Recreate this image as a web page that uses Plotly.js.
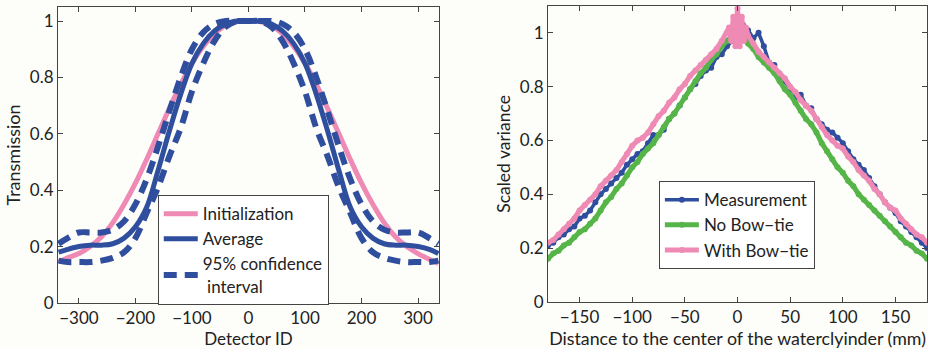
<!DOCTYPE html>
<html><head><meta charset="utf-8">
<script src="https://cdn.plot.ly/plotly-3.0.1.min.js"></script>
<style>html,body{margin:0;padding:0;background:#fdfdf9;}#c{width:928px;height:349px;}</style>
</head><body><div id="c"></div>
<script>
// ---- Left panel: transmission vs detector ID ----
const detectorId = [-336,-320,-300,-280,-260,-240,-220,-200,-180,-160,-140,-120,-100,-80,-60,-40,-20,0,20,40,60,80,100,120,140,160,180,200,220,240,260,280,300,320,336];
const initialization = [0.145,0.16,0.175,0.2,0.235,0.285,0.35,0.425,0.51,0.6,0.69,0.775,0.85,0.91,0.955,0.985,0.998,1.0,0.998,0.985,0.955,0.91,0.85,0.775,0.69,0.6,0.51,0.425,0.35,0.285,0.235,0.2,0.175,0.155,0.14];
const average = [0.18,0.19,0.2,0.205,0.205,0.21,0.23,0.27,0.34,0.47,0.61,0.74,0.85,0.92,0.965,0.99,1.0,1.0,1.0,0.99,0.965,0.92,0.85,0.74,0.61,0.47,0.34,0.27,0.23,0.21,0.205,0.205,0.2,0.19,0.175];
const ciUpper = [0.21,0.23,0.25,0.25,0.25,0.26,0.29,0.35,0.44,0.555,0.68,0.8,0.9,0.96,0.99,1.0,1.0,1.0,1.0,1.0,0.99,0.96,0.9,0.8,0.68,0.555,0.44,0.35,0.29,0.26,0.25,0.25,0.25,0.23,0.21];
const ciLower = [0.15,0.145,0.145,0.145,0.15,0.16,0.18,0.23,0.32,0.41,0.52,0.62,0.75,0.85,0.93,0.98,1.0,1.0,1.0,0.98,0.93,0.85,0.75,0.62,0.52,0.41,0.32,0.23,0.18,0.16,0.15,0.145,0.145,0.145,0.15];

// ---- Right panel: scaled variance vs distance ----
const distance = [-180,-175,-170,-165,-160,-155,-150,-145,-140,-135,-130,-125,-120,-115,-110,-105,-100,-95,-90,-85,-80,-75,-70,-65,-60,-55,-50,-45,-40,-35,-30,-25,-20,-15,-10,-5,0,5,10,15,20,25,30,35,40,45,50,55,60,65,70,75,80,85,90,95,100,105,110,115,120,125,130,135,140,145,150,155,160,165,170,175,180];
const measurement = [0.21,0.22,0.24,0.25,0.27,0.28,0.31,0.32,0.34,0.37,0.40,0.42,0.44,0.46,0.48,0.51,0.53,0.55,0.56,0.59,0.62,0.62,0.64,0.68,0.70,0.73,0.76,0.79,0.81,0.84,0.86,0.87,0.91,0.92,0.95,0.97,1.02,1.03,1.01,0.98,1.0,0.95,0.89,0.88,0.83,0.82,0.79,0.76,0.77,0.73,0.72,0.68,0.66,0.64,0.63,0.61,0.59,0.56,0.53,0.51,0.49,0.46,0.43,0.40,0.37,0.35,0.33,0.30,0.28,0.26,0.24,0.22,0.20];
const noBowtie = [0.16,0.18,0.19,0.21,0.22,0.24,0.26,0.27,0.29,0.31,0.34,0.37,0.39,0.42,0.44,0.47,0.50,0.52,0.55,0.57,0.59,0.62,0.65,0.68,0.70,0.73,0.76,0.79,0.82,0.85,0.87,0.90,0.92,0.95,0.97,0.99,1.0,0.99,0.96,0.94,0.91,0.89,0.87,0.85,0.82,0.79,0.77,0.74,0.71,0.68,0.66,0.63,0.59,0.56,0.53,0.50,0.48,0.45,0.43,0.40,0.38,0.36,0.34,0.32,0.30,0.28,0.26,0.24,0.22,0.21,0.19,0.18,0.16];
const bowtieX = [-180,-175,-170,-165,-160,-155,-150,-145,-140,-135,-130,-125,-120,-115,-110,-105,-100,-95,-90,-85,-80,-75,-70,-65,-60,-55,-50,-45,-40,-35,-30,-25,-20,-15,-10,-8,-6,-4,-2,0,2,4,6,8,10,15,20,25,30,35,40,45,50,55,60,65,70,75,80,85,90,95,100,105,110,115,120,125,130,135,140,145,150,155,160,165,170,175,180];
const withBowtie = [0.22,0.23,0.25,0.27,0.29,0.31,0.34,0.36,0.38,0.40,0.43,0.45,0.47,0.49,0.52,0.55,0.58,0.60,0.61,0.63,0.66,0.69,0.71,0.74,0.76,0.79,0.81,0.84,0.86,0.88,0.90,0.92,0.94,0.97,1.00,1.02,0.97,1.06,0.95,1.09,0.95,1.06,0.97,1.02,0.99,0.96,0.93,0.91,0.89,0.87,0.85,0.83,0.80,0.78,0.75,0.73,0.71,0.68,0.65,0.62,0.60,0.58,0.57,0.54,0.52,0.49,0.47,0.45,0.42,0.40,0.37,0.35,0.34,0.31,0.29,0.27,0.25,0.24,0.22];

const PINK = '#ee8ab4', BLUE = '#2f4e9e', GREEN = '#56b548';
const FONT = 'Lato, "Open Sans", sans-serif';

const traces = [
  {x: detectorId, y: initialization, name: 'Initialization', mode: 'lines', line: {color: PINK, width: 5, shape: 'spline'}, xaxis: 'x', yaxis: 'y', legend: 'legend'},
  {x: detectorId, y: average, name: 'Average', mode: 'lines', line: {color: BLUE, width: 5, shape: 'spline'}, xaxis: 'x', yaxis: 'y', legend: 'legend'},
  {x: detectorId, y: ciUpper, name: '95% confidence<br> interval', legendgroup: 'ci', mode: 'lines', line: {color: BLUE, width: 6, dash: '13px,8px', shape: 'spline'}, xaxis: 'x', yaxis: 'y', legend: 'legend'},
  {x: detectorId, y: ciLower, name: 'ci lower', legendgroup: 'ci', showlegend: false, mode: 'lines', line: {color: BLUE, width: 6, dash: '13px,8px', shape: 'spline'}, xaxis: 'x', yaxis: 'y'},
  {x: distance, y: measurement, name: 'Measurement', mode: 'lines+markers', line: {color: BLUE, width: 3.5}, marker: {color: BLUE, size: 6}, xaxis: 'x2', yaxis: 'y2', legend: 'legend2'},
  {x: distance, y: noBowtie, name: 'No Bow\u2212tie', mode: 'lines+markers', line: {color: GREEN, width: 5}, marker: {color: GREEN, size: 6}, xaxis: 'x2', yaxis: 'y2', legend: 'legend2'},
  {x: bowtieX, y: withBowtie, name: 'With Bow\u2212tie', mode: 'lines+markers', line: {color: PINK, width: 5}, marker: {color: PINK, size: 6}, xaxis: 'x2', yaxis: 'y2', legend: 'legend2'}
];

const axisCommon = {
  showline: true, mirror: 'ticks', linecolor: '#444', linewidth: 1,
  ticks: 'inside', ticklen: 5, tickcolor: '#444', showgrid: false, zeroline: false,
  tickfont: {family: FONT, size: 17, color: '#222'}
};

const layout = {
  width: 928, height: 349,
  margin: {l: 0, r: 0, t: 0, b: 0},
  paper_bgcolor: '#fdfdf9', plot_bgcolor: '#fdfdf9',
  font: {family: FONT, color: '#222'},
  showlegend: true,
  xaxis: Object.assign({}, axisCommon, {domain: [0.0625, 0.473], range: [-337, 337], tickvals: [-300,-200,-100,0,100,200,300], anchor: 'y',
    title: {text: 'Detector ID', font: {family: FONT, size: 17, color: '#222'}, standoff: 1}}),
  yaxis: Object.assign({}, axisCommon, {domain: [0.132, 0.98], range: [0, 1.05], tickvals: [0,0.2,0.4,0.6,0.8,1], ticktext: ['0','0.2','0.4','0.6','0.8','1'], anchor: 'x',
    title: {text: 'Transmission', font: {family: FONT, size: 18, color: '#222'}, standoff: 4}}),
  xaxis2: Object.assign({}, axisCommon, {domain: [0.5905, 0.999], range: [-180, 180], tickvals: [-150,-100,-50,0,50,100,150], anchor: 'y2',
    title: {text: 'Distance to the center of the waterclyinder (mm)', font: {family: FONT, size: 17.8, color: '#222'}, standoff: 1}}),
  yaxis2: Object.assign({}, axisCommon, {domain: [0.135, 0.983], range: [0, 1.1], tickvals: [0,0.2,0.4,0.6,0.8,1], ticktext: ['0','0.2','0.4','0.6','0.8','1'], anchor: 'x2',
    title: {text: 'Scaled variance', font: {family: FONT, size: 17.5, color: '#222'}, standoff: 4}}),
  legend: {x: 0.170, y: 0.441, xanchor: 'left', yanchor: 'top', bgcolor: '#ffffff', bordercolor: '#444', borderwidth: 1,
    font: {family: FONT, size: 17, color: '#222'}, tracegroupgap: 0, itemwidth: 34},
  legend2: {x: 0.710, y: 0.481, xanchor: 'left', yanchor: 'top', bgcolor: '#ffffff', bordercolor: '#444', borderwidth: 1,
    font: {family: FONT, size: 17, color: '#222'}, tracegroupgap: 0, itemwidth: 34}
};

Plotly.newPlot('c', traces, layout, {displayModeBar: false, staticPlot: true});
</script>
</body></html>
